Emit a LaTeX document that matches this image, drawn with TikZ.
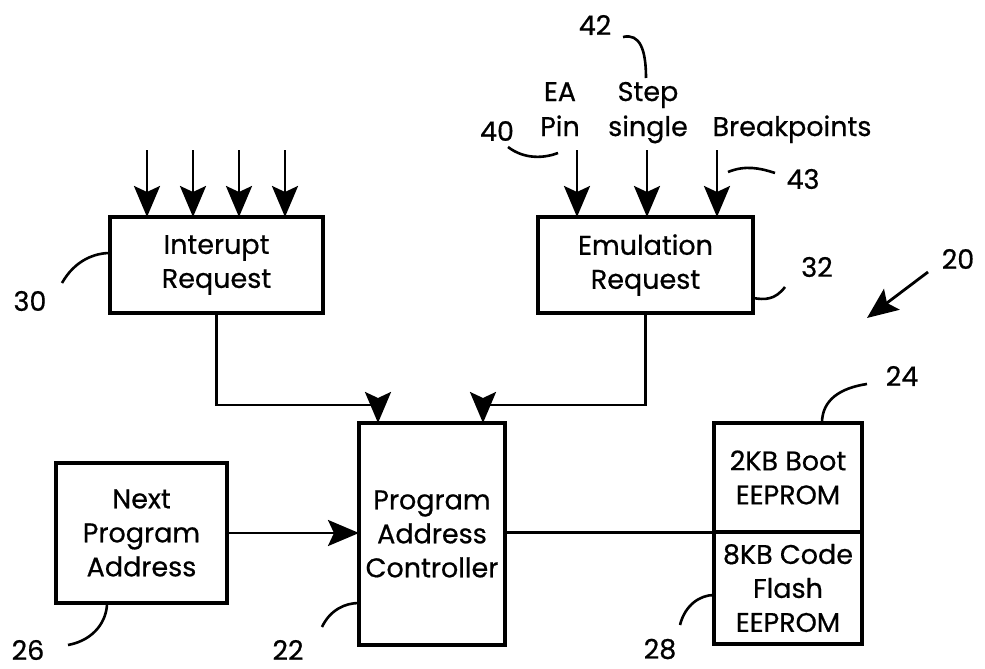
\documentclass[tikz,border=0pt]{standalone}
\usepackage{fontspec}
\setmainfont{Poppins}[FakeBold=0.6]
\usetikzlibrary{arrows.meta}
\begin{document}
\begin{tikzpicture}[x=1pt,y=-1pt,
  box/.style={draw,line width=3.2pt,inner sep=0pt,outer sep=0pt,align=center,font=\fontsize{27}{34}\selectfont},
  lbl/.style={font=\fontsize{27}{30}\selectfont,inner sep=0pt},
  txt/.style={font=\fontsize{27}{30}\selectfont,inner sep=0pt,anchor=base},
  arr/.style={line width=2.8pt,-{Stealth[length=31pt,width=26pt,inset=6pt]}},
  lead/.style={line width=2.6pt},
  wire/.style={line width=3pt}]
\useasboundingbox (0,0) rectangle (985,669);

% boxes
\node[box,minimum width=213pt,minimum height=96pt] (ir) at (216.5,265) {Interupt\\Request};
\node[box,minimum width=215pt,minimum height=96pt] (er) at (645.5,265) {Emulation\\Request};
\node[box,minimum width=146pt,minimum height=222pt] (pac) at (432,534) {Program\\Address\\Controller};
\node[box,minimum width=171pt,minimum height=140pt] (npa) at (141.5,533) {Next\\Program\\Address};
\node[box,minimum width=148pt,minimum height=109pt] (boot) at (788,477.5) {2KB Boot\\EEPROM};
\node[box,minimum width=148pt,minimum height=112pt,anchor=north] (flash) at (boot.south) {8KB Code\\Flash\\EEPROM};

% interrupt inputs
\foreach \x/\n in {147/a,193/b,239/c,285/d}{
  \coordinate (i\n) at (\x,150);
  \draw[arr] (i\n) -- (i\n |- ir.north);
}
% emulation inputs
\foreach \x/\n in {577/a,647/b,717/c}{
  \coordinate (e\n) at (\x,150);
  \draw[arr] (e\n) -- (e\n |- er.north);
}
\node[txt] (tea) at (560,101) {EA};
\node[txt] (tpin) at (560,136) {Pin};
\node[txt] (tstep) at (648,101) {Step};
\node[txt] (tsingle) at (648,136) {single};
\node[txt] (tbp) at (792,136) {Breakpoints};

% connections
\draw[arr] (ir.south) -- ++(0,92) -| ([xshift=-54pt]pac.north);
\draw[arr] (er.south) -- ++(0,92) -| ([xshift=51pt]pac.north);
\draw[arr] (npa.east) -- (npa.east -| pac.west);
\draw[wire] (pac.east |- boot.south) -- (boot.south west);

% reference numerals
\node[lbl] (n30) at (30,301) {30};
\coordinate (c30) at (62,283);
\draw[lead] (c30) .. controls (75,260) and (95,253) .. ([yshift=12pt]ir.west);

\node[lbl] (n26) at (28,650) {26};
\coordinate (c26) at (68,645);
\draw[lead] (c26) .. controls (95,640) and (107,620) .. ([xshift=-34.5pt]npa.south);

\node[lbl] (n22) at (288,650) {22};
\coordinate (c22) at (322,627);
\draw[lead] (c22) .. controls (330,610) and (345,603) .. ([yshift=-69pt]pac.west);

\node[lbl] (n28) at (660,649) {28};
\coordinate (c28) at (680,625);
\draw[lead] (c28) .. controls (685,605) and (700,595) .. ([yshift=-7pt]flash.west);

\node[lbl] (n24) at (902,376) {24};
\coordinate (c24) at (867,384);
\draw[lead] (c24) .. controls (840,388) and (822,400) .. ([xshift=34pt]boot.north);

\node[lbl] (n32) at (817,267) {32};
\coordinate (c32) at (785,287);
\draw[lead] (c32) .. controls (775,300) and (765,300) .. ([yshift=-33pt]er.east);

\node[lbl] (n20) at (958,259) {20};
\coordinate (s20) at (928,272);
\coordinate (t20) at (867,318);
\draw[arr] (s20) -- (t20);

\node[lbl] (n42) at (595,25) {42};
\coordinate (c42) at (623,37);
\coordinate (d42) at (646,78);
\draw[lead] (c42) .. controls (640,33) and (646,50) .. (d42);

\node[lbl] (n40) at (497,131) {40};
\coordinate (c40) at (508,147);
\coordinate (d40) at (558,153);
\draw[lead] (c40) .. controls (525,160) and (545,158) .. (d40);

\node[lbl] (n43) at (803,179) {43};
\coordinate (c43) at (728,172);
\coordinate (d43) at (775,173);
\draw[lead] (c43) .. controls (745,165) and (760,168) .. (d43);
\end{tikzpicture}
\end{document}
